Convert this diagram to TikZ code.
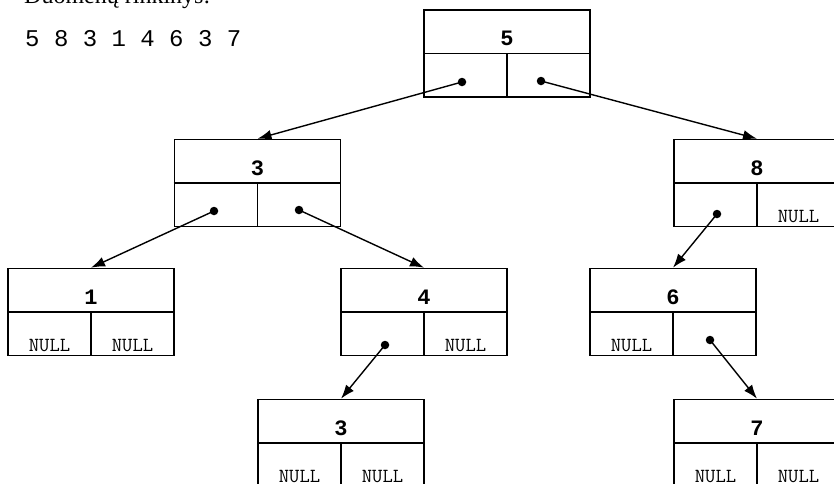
\documentclass[tikz,border=0pt]{standalone}
\usepackage{fontspec}
\setmainfont{Liberation Serif}
\newfontfamily\codefont{Liberation Mono}
\usetikzlibrary{arrows.meta,calc}

\tikzset{
  box/.style={draw, line width=1.6pt, minimum width=166pt, minimum height=87pt, inner sep=0pt},
  val/.style={font=\codefont\bfseries\fontsize{22}{22}\selectfont, anchor=base},
  null/.style={font=\ttfamily\addfontfeatures{FakeStretch=1.12}\fontsize{20}{20}\selectfont, anchor=base},
  ptr/.style={circle, fill, inner sep=0pt, minimum size=8.5pt},
  link/.style={-{Latex[length=14pt,width=10pt]}, line width=1.4pt},
}

% one tree element: value on top, two pointer cells below
\newcommand{\treenode}[3]{%
  \node[box] (#1) at (#2) {};
  \draw[line width=1.6pt] (#1.west) -- (#1.east) (#1.center) -- (#1.south);
  \node[val] (#1v) at ([yshift=8pt]#1.center) {#3};
}
\newcommand{\nullleft}[1]{\node[null] (#1l) at ([xshift=-41.5pt,yshift=5pt]#1.south) {NULL};}
\newcommand{\nullright}[1]{\node[null] (#1r) at ([xshift=41.5pt,yshift=5pt]#1.south) {NULL};}

\begin{document}
\begin{tikzpicture}[x=1pt, y=-1pt]
  \clip (0,0) rectangle (834,483);

  % duomenys
  \node[anchor=base west, inner sep=0pt, font=\fontsize{24}{24}\selectfont] (title) at (24,3.5) {Duomenų rinkinys:};
  \node[anchor=base west, inner sep=0pt, font=\codefont\fontsize{24}{24}\selectfont] (data) at (25,46) {5 8 3 1 4 6 3 7};

  % medžio elementai
  \treenode{n5}{507,53.5}{5}
  \treenode{n3}{257.5,183}{3}
  \treenode{n8}{757,183}{8}
  \treenode{n1}{91,312}{1}
  \treenode{n4}{424,312}{4}
  \treenode{n6}{673,312}{6}
  \treenode{n3b}{341,443}{3}
  \treenode{n7}{757,443}{7}

  % tuščios rodyklės
  \nullright{n8}
  \nullleft{n1} \nullright{n1}
  \nullright{n4}
  \nullleft{n6}
  \nullleft{n3b} \nullright{n3b}
  \nullleft{n7} \nullright{n7}

  % rodyklės
  \node[ptr] (p5l) at (462,82) {};
  \node[ptr] (p5r) at (541,81) {};
  \node[ptr] (p3l) at (214,211) {};
  \node[ptr] (p3r) at (299,210) {};
  \node[ptr] (p8l) at (717,214) {};
  \node[ptr] (p4l) at (385,345) {};
  \node[ptr] (p6r) at (710,340) {};

  \draw[link] (p5l.center) -- (n3.north);
  \draw[link] (p5r.center) -- (n8.north);
  \draw[link] (p3l.center) -- (n1.north);
  \draw[link] (p3r.center) -- (n4.north);
  \draw[link] (p8l.center) -- (n6.north);
  \draw[link] (p4l.center) -- (n3b.north);
  \draw[link] (p6r.center) -- (n7.north);
\end{tikzpicture}
\end{document}
